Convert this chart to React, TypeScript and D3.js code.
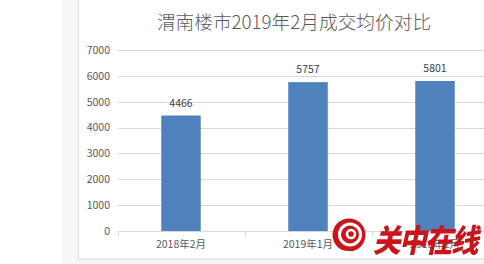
import React from "react";
import * as d3 from "d3";

const categories = ["2018年2月", "2019年1月", "2019年2月"];
const values = [4466, 5757, 5801];
const yTicks = [0, 1000, 2000, 3000, 4000, 5000, 6000, 7000];
const title = "渭南楼市2019年2月成交均价对比";
const watermark = "关中在线";

const W = 484;
const H = 264;
const FONT = "'Noto Sans CJK SC', 'Noto Sans', sans-serif";

export default function App() {
  const x = d3.scaleBand<string>().domain(categories).range([117.5, 498.5]).paddingInner(0).paddingOuter(0);
  const y = d3.scaleLinear().domain([0, 7000]).range([231, 50]);
  const barW = 39.5;

  return (
    <svg
      width={W}
      height={H}
      style={{ position: "fixed", left: 0, top: 0, display: "block" }}
      xmlns="http://www.w3.org/2000/svg"
    >
      <rect x={0} y={0} width={W} height={H} fill="#ffffff" />
      <rect x={62} y={0} width={W - 62} height={H} fill="#f6f6f6" />
      <rect x={78.5} y={-2} width={W} height={261} fill="#ffffff" stroke="#d9d9d9" strokeWidth={1} />

      <text
        x={294}
        y={29}
        textAnchor="middle"
        fontFamily={FONT}
        fontSize={18.7}
        fontWeight={300}
        fill="#595959"
      >
        {title}
      </text>

      {yTicks.map((t) => (
        <g key={t}>
          {t > 0 && (
            <line x1={117.5} x2={W} y1={Math.round(y(t)) + 0.5} y2={Math.round(y(t)) + 0.5} stroke="#d9d9d9" strokeWidth={1} />
          )}
          <text
            x={110}
            y={y(t) + 3.8}
            textAnchor="end"
            fontFamily={FONT}
            fontSize={10.5}
            fill="#595959"
          >
            {t}
          </text>
        </g>
      ))}

      {categories.map((c, i) => {
        const cx = (x(c) as number) + x.bandwidth() / 2;
        return (
          <g key={c}>
            <rect x={cx - barW / 2} y={y(values[i])} width={barW} height={y(0) - y(values[i])} fill="#4f81bd" />
            <text x={cx} y={y(values[i]) - 9} textAnchor="middle" fontFamily={FONT} fontSize={10.5} fill="#404040">
              {values[i]}
            </text>
            <text x={cx} y={247.5} textAnchor="middle" fontFamily={FONT} fontSize={10.5} fill="#595959">
              {c}
            </text>
          </g>
        );
      })}

      <line x1={117.5} x2={W} y1={231.5} y2={231.5} stroke="#d9d9d9" strokeWidth={1} />
      {categories.concat(["__end"]).map((c, i) => {
        const tx = Math.round(117.5 + i * x.bandwidth()) + 0.5;
        return <line key={c} x1={tx} x2={tx} y1={231.5} y2={236} stroke="#d9d9d9" strokeWidth={1} />;
      })}

      <g>
        <circle cx={349} cy={235} r={16.5} fill="#c9161d" />
        <circle cx={350} cy={234.5} r={10.5} fill="none" stroke="#ffffff" strokeWidth={3} />
        <circle cx={351} cy={234} r={4} fill="none" stroke="#ffffff" strokeWidth={2.5} />
        <path d="M335,246 Q340,253 352,252" fill="none" stroke="#ffffff" strokeWidth={2} />
        <text
          x={373}
          y={252}
          fontFamily={FONT}
          fontSize={27.5}
          fontWeight={900}
          fontStyle="italic"
          fill="#c9161d"
          letterSpacing={-1.5}
          transform="translate(373,252) scale(1,1.15) translate(-373,-252)"
        >
          {watermark}
        </text>
      </g>
    </svg>
  );
}
